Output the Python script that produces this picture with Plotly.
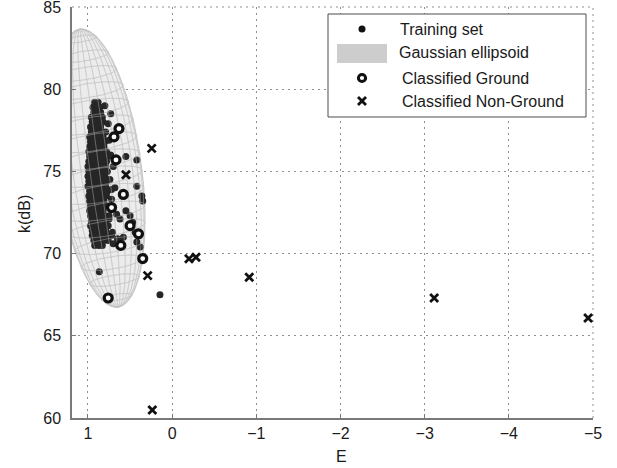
import numpy as np
import plotly.graph_objects as go

# ---- data -------------------------------------------------------------
# Training set (E, k in dB), listed row by row from the top of the cluster
train_e = [
    0.92, 0.88,
    0.94, 0.90, 0.86,
    0.93, 0.89, 0.85,
    0.96, 0.92, 0.88, 0.83,
    0.95, 0.91, 0.86, 0.82,
    0.97, 0.93, 0.89, 0.85,
    0.96, 0.92, 0.87, 0.83, 0.79,
    0.98, 0.94, 0.90, 0.86, 0.82,
    0.97, 0.93, 0.88, 0.84, 0.80,
    0.98, 0.94, 0.90, 0.85, 0.81,
    0.99, 0.95, 0.91, 0.87, 0.82, 0.78,
    0.98, 0.94, 0.89, 0.85, 0.81, 0.76,
    0.99, 0.95, 0.91, 0.87, 0.83, 0.78,
    1.00, 0.96, 0.92, 0.88, 0.84, 0.79,
    0.99, 0.95, 0.90, 0.86, 0.82, 0.77,
    1.00, 0.96, 0.92, 0.88, 0.84, 0.80,
    0.99, 0.95, 0.91, 0.86, 0.82, 0.78,
    1.00, 0.96, 0.92, 0.88, 0.84, 0.79,
    0.98, 0.94, 0.90, 0.86, 0.82, 0.77,
    0.99, 0.95, 0.91, 0.87, 0.83, 0.78,
    0.98, 0.94, 0.89, 0.85, 0.81,
    0.97, 0.93, 0.89, 0.85, 0.81, 0.76,
    0.98, 0.94, 0.90, 0.86, 0.82,
    0.97, 0.93, 0.88, 0.84, 0.80, 0.75,
    0.96, 0.92, 0.88, 0.84, 0.79,
    0.97, 0.93, 0.89, 0.85, 0.81, 0.76,
    0.95, 0.91, 0.87, 0.83, 0.79,
    0.95, 0.91, 0.87, 0.83, 0.78, 0.72,
    0.93, 0.89, 0.85, 0.81, 0.76,
    0.92, 0.87, 0.83,
    # scattered samples right of the main cluster
    0.73, 0.55, 0.42, 0.36, 0.35, 0.42, 0.70, 0.68, 0.72, 0.66, 0.62,
    0.55, 0.50, 0.47, 0.44, 0.40, 0.42, 0.58, 0.65, 0.70, 0.38, 0.866, 0.145,
    0.76, 0.75, 0.73, 0.74, 0.72, 0.75, 0.71, 0.80,
]
train_k = [
    79.2, 79.2,
    78.9, 78.9, 78.9,
    78.6, 78.6, 78.6,
    78.3, 78.3, 78.3, 78.3,
    78.0, 78.0, 78.0, 78.0,
    77.7, 77.7, 77.7, 77.7,
    77.4, 77.4, 77.4, 77.4, 77.4,
    77.1, 77.1, 77.1, 77.1, 77.1,
    76.8, 76.8, 76.8, 76.8, 76.8,
    76.5, 76.5, 76.5, 76.5, 76.5,
    76.2, 76.2, 76.2, 76.2, 76.2, 76.2,
    75.9, 75.9, 75.9, 75.9, 75.9, 75.9,
    75.6, 75.6, 75.6, 75.6, 75.6, 75.6,
    75.3, 75.3, 75.3, 75.3, 75.3, 75.3,
    75.0, 75.0, 75.0, 75.0, 75.0, 75.0,
    74.7, 74.7, 74.7, 74.7, 74.7, 74.7,
    74.4, 74.4, 74.4, 74.4, 74.4, 74.4,
    74.1, 74.1, 74.1, 74.1, 74.1, 74.1,
    73.8, 73.8, 73.8, 73.8, 73.8, 73.8,
    73.5, 73.5, 73.5, 73.5, 73.5, 73.5,
    73.2, 73.2, 73.2, 73.2, 73.2,
    72.9, 72.9, 72.9, 72.9, 72.9, 72.9,
    72.6, 72.6, 72.6, 72.6, 72.6,
    72.3, 72.3, 72.3, 72.3, 72.3, 72.3,
    72.0, 72.0, 72.0, 72.0, 72.0,
    71.7, 71.7, 71.7, 71.7, 71.7, 71.7,
    71.4, 71.4, 71.4, 71.4, 71.4,
    71.1, 71.1, 71.1, 71.1, 71.1, 71.1,
    70.8, 70.8, 70.8, 70.8, 70.8,
    70.5, 70.5, 70.5,
    78.5, 75.9, 75.7, 73.5, 73.2, 74.1, 75.3, 74.0, 73.3, 72.4, 72.1,
    72.6, 72.3, 71.9, 71.3, 71.1, 70.7, 71.0, 70.9, 70.6, 70.4, 68.9, 67.5,
    77.9, 76.9, 76.0, 74.5, 73.9, 72.1, 71.3, 79.0,
]

# Samples classified as ground
ground_e = [0.632, 0.691, 0.667, 0.58, 0.72, 0.50, 0.61, 0.35, 0.76, 0.40]
ground_k = [77.6, 77.1, 75.7, 73.6, 72.8, 71.7, 70.5, 69.7, 67.3, 71.2]

# Samples classified as non-ground
nonground_e = [0.243, 0.549, 0.291, -0.20, -0.283, -0.916, 0.236, -3.113, -4.942]
nonground_k = [76.4, 74.8, 68.66, 69.68, 69.78, 68.56, 60.49, 67.30, 66.08]

# Gaussian ellipsoid, projected: centre and half-axis vectors (E, k)
ellipse_center = [0.87, 75.2]
ellipse_major = [0.226, 8.45]
ellipse_minor = [-0.50, 0.35]
ellipse_depth = [0.04, -0.55]

x_ticks = [1, 0, -1, -2, -3, -4, -5]
y_ticks = [60, 65, 70, 75, 80, 85]

FONT = "Liberation Sans, Arial, Helvetica, sans-serif"
GRID = "#8f8f8f"
GRID_DASH = "2px,4px"

# ---- ellipsoid outline and wireframe ---------------------------------
c = np.array(ellipse_center)
a = np.array(ellipse_major)
b = np.array(ellipse_minor)
d = np.array(ellipse_depth)
t = np.linspace(0, 2 * np.pi, 241)
outline = c[:, None] + np.outer(a, np.cos(t)) + np.outer(b, np.sin(t))

mesh_e, mesh_k = [], []
# meridians
for phi in np.linspace(0, np.pi, 15)[1:-1]:
    s = np.linspace(0, np.pi, 90)
    pts = c[:, None] + np.outer(a, np.cos(s)) + np.outer(b * np.cos(phi), np.sin(s))
    mesh_e += list(pts[0]) + [None]
    mesh_k += list(pts[1]) + [None]
# parallels
for u in np.linspace(-0.93, 0.93, 16):
    r = np.sqrt(1 - u * u)
    p = np.linspace(0, 2 * np.pi, 90)
    pts = (c + a * u)[:, None] + r * (np.outer(b, np.sin(p)) + np.outer(d, np.cos(p)))
    mesh_e += list(pts[0]) + [None]
    mesh_k += list(pts[1]) + [None]

fig = go.Figure()

fig.add_trace(go.Scatter(
    x=outline[0], y=outline[1], mode="lines", fill="toself",
    fillcolor="#ececec", line=dict(color="#c4c4c4", width=1),
    hoverinfo="skip", showlegend=False, name="Gaussian ellipsoid",
))

fig.add_trace(go.Scatter(
    x=mesh_e, y=mesh_k, mode="lines",
    line=dict(color="#d2d2d2", width=0.8),
    hoverinfo="skip", showlegend=False,
))

fig.add_trace(go.Scatter(
    x=train_e, y=train_k, mode="markers", name="Training set",
    marker=dict(symbol="circle", size=7, color="#262626", line=dict(width=0)),
    showlegend=False,
))

# wireframe drawn again, faintly, across the training samples
fig.add_trace(go.Scatter(
    x=mesh_e, y=mesh_k, mode="lines",
    line=dict(color="rgba(190,190,190,0.55)", width=0.8),
    hoverinfo="skip", showlegend=False,
))

fig.add_trace(go.Scatter(
    x=ground_e, y=ground_k, mode="markers", name="Classified Ground",
    marker=dict(symbol="circle", size=8, color="white",
                line=dict(color="#111111", width=3.2)),
    showlegend=False,
))

fig.add_trace(go.Scatter(
    x=nonground_e, y=nonground_k, mode="markers", name="Classified Non-Ground",
    marker=dict(symbol="x-thin", size=8, color="#111111",
                line=dict(color="#111111", width=2.8)),
    showlegend=False,
))

# ---- geometry helpers for the legend box ------------------------------
W, H = 617, 468
ML, MR, MT, MB = 72, 24, 7, 50
PW, PH = W - ML - MR, H - MT - MB


def px(xp):
    return (xp - ML) / PW


def py(yp):
    return (H - MB - yp) / PH


shapes = [
    # dotted grid lines on the top and right borders
    dict(type="line", xref="paper", yref="paper", x0=0, x1=1, y0=1, y1=1,
         line=dict(color=GRID, width=1, dash=GRID_DASH), layer="below"),
    dict(type="line", xref="paper", yref="paper", x0=1, x1=1, y0=0, y1=1,
         line=dict(color=GRID, width=1, dash=GRID_DASH), layer="below"),
    # legend box and keys
    dict(type="rect", xref="paper", yref="paper", x0=px(328), x1=px(586),
         y0=py(117), y1=py(14), fillcolor="white", line=dict(color="#4d4d4d", width=1),
         layer="above"),
    dict(type="rect", xref="paper", yref="paper", x0=px(337), x1=px(387),
         y0=py(63), y1=py(44), fillcolor="#cdcdcd", line=dict(width=0), layer="above"),
    dict(type="circle", xref="paper", yref="paper", xsizemode="pixel", ysizemode="pixel",
         xanchor=px(362), yanchor=py(29), x0=-3.5, x1=3.5, y0=-3.5, y1=3.5,
         fillcolor="#111111", line=dict(width=0), layer="above"),
    dict(type="circle", xref="paper", yref="paper", xsizemode="pixel", ysizemode="pixel",
         xanchor=px(362), yanchor=py(78), x0=-3.6, x1=3.6, y0=-3.6, y1=3.6,
         fillcolor="white", line=dict(color="#111111", width=3), layer="above"),
    dict(type="line", xref="paper", yref="paper", xsizemode="pixel", ysizemode="pixel",
         xanchor=px(362), yanchor=py(101), x0=-4, x1=4, y0=-4, y1=4,
         line=dict(color="#111111", width=2.8), layer="above"),
    dict(type="line", xref="paper", yref="paper", xsizemode="pixel", ysizemode="pixel",
         xanchor=px(362), yanchor=py(101), x0=-4, x1=4, y0=4, y1=-4,
         line=dict(color="#111111", width=2.8), layer="above"),
]

legend_text = [
    ("Training set", 398, 29),
    ("Gaussian ellipsoid", 397, 53),
    ("Classified Ground", 400, 78),
    ("Classified Non-Ground", 400, 101),
]
annotations = [
    dict(text=s, x=px(xx), y=py(yy), xref="paper", yref="paper", xanchor="left",
         yanchor="middle", showarrow=False, font=dict(family=FONT, size=16, color="#1a1a1a"))
    for s, xx, yy in legend_text
]
annotations += [
    dict(text="E", x=px(341), y=py(456), xref="paper", yref="paper", showarrow=False,
         xanchor="center", yanchor="middle", font=dict(family=FONT, size=16, color="#1a1a1a")),
    dict(text="k(dB)", x=px(25), y=py(214), xref="paper", yref="paper", showarrow=False,
         textangle=-90, xanchor="center", yanchor="middle",
         font=dict(family=FONT, size=16, color="#1a1a1a")),
]

axis_common = dict(
    showline=True, linecolor="#7a7a7a", linewidth=1.5, mirror=False,
    showgrid=True, gridcolor=GRID, gridwidth=1, griddash=GRID_DASH,
    zeroline=False, ticks="inside", ticklen=4, tickcolor="#7a7a7a", tickwidth=1,
    tickfont=dict(family=FONT, size=16, color="#1a1a1a"),
    ticklabeloverflow="allow", automargin=False,
)

fig.update_layout(
    width=W, height=H,
    margin=dict(l=ML, r=MR, t=MT, b=MB, pad=0, autoexpand=False),
    paper_bgcolor="white", plot_bgcolor="white",
    showlegend=False,
    shapes=shapes, annotations=annotations,
    xaxis=dict(range=[1.19, -5], tickmode="array", tickvals=x_ticks,
               ticktext=[("\u2212" + str(-v)) if v < 0 else str(v) for v in x_ticks],
               **axis_common),
    yaxis=dict(range=[60, 85], tickmode="array", tickvals=y_ticks,
               ticklabelstandoff=6, **axis_common),
)

fig.write_html("out.html")
